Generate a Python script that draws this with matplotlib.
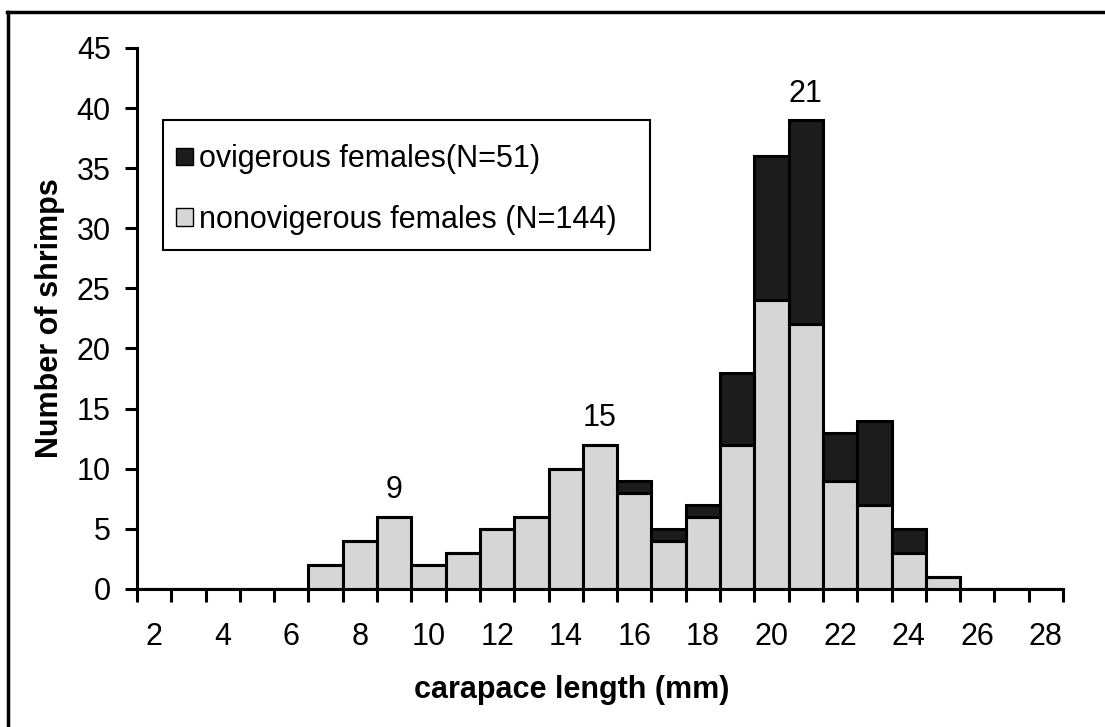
import numpy as np
import matplotlib
matplotlib.use('Agg')
from matplotlib import pyplot as plt
from matplotlib.lines import Line2D
from matplotlib.patches import Rectangle

plt.rcParams['font.family'] = ['Liberation Sans', 'DejaVu Sans']

'''
data
'''
lengths = list(range(2, 29))   # carapace length classes (mm)
nonovigerous = [0, 0, 0, 0, 0, 2, 4, 6, 2, 3, 5, 6, 10, 12, 8, 4, 6, 12,
                24, 22, 9, 7, 3, 1, 0, 0, 0]
ovigerous = [0, 0, 0, 0, 0, 0, 0, 0, 0, 0, 0, 0, 0, 0, 1, 1, 1, 6,
             12, 17, 4, 7, 2, 0, 0, 0, 0]
peak_labels = [9, 15, 21]
x_ticklabels = [str(v) for v in range(2, 29, 2)]
y_ticks = list(range(0, 46, 5))

label_ovi = 'ovigerous females(N=51)'
label_non = 'nonovigerous females (N=144)'

'''
plotting
'''
fig = plt.figure(figsize=(11.05, 7.27), dpi=100)
ax = fig.add_axes([0.124, 0.190, 0.838, 0.744])

x = np.array(lengths)
non = np.array(nonovigerous)
ovi = np.array(ovigerous)

ax.bar(x, non, width=1.0, color='#d6d6d6', edgecolor='black', linewidth=2.2,
       label=label_non, zorder=2)
ax.bar(x, ovi, width=1.0, bottom=non, color='#1c1c1c', edgecolor='black',
       linewidth=2.2, label=label_ovi, zorder=2)

total = non + ovi
for p in peak_labels:
    i = lengths.index(p)
    ax.text(p, total[i] + 2.2, str(p), ha='center', va='center', fontsize=22)

ax.set_xlim(1.5, 28.5)
ax.set_ylim(0, 45)

# ticks at class boundaries, labels at every other class centre
ax.set_xticks(np.arange(1.5, 29, 1.0))
ax.set_xticklabels([])
ax.set_xticks(range(2, 29, 2), x_ticklabels, minor=True)
ax.tick_params(axis='x', which='major', direction='out', length=9, width=2.2)
ax.tick_params(axis='x', which='minor', length=0, pad=24, labelsize=22)

ax.set_yticks(y_ticks)
ax.tick_params(axis='y', direction='out', length=9, width=2.2, pad=10,
               labelsize=22)

for s in ['top', 'right']:
    ax.spines[s].set_visible(False)
for s in ['left', 'bottom']:
    ax.spines[s].set_linewidth(2.2)

ax.set_xlabel('carapace length (mm)', fontsize=22, fontweight='bold')
ax.xaxis.set_label_coords(0.469, -0.160)
ax.set_ylabel('Number of shrimps', fontsize=22, fontweight='bold', labelpad=8)

# legend box drawn separately, entries placed inside it
ax.add_patch(Rectangle((0.028, 0.627), 0.526, 0.240, transform=ax.transAxes,
                       facecolor='white', edgecolor='black', linewidth=1.5,
                       zorder=3))
h, l = ax.get_legend_handles_labels()
leg = ax.legend(h[::-1], l[::-1], loc='upper left',
                bbox_to_anchor=(0.042, 0.822), frameon=False,
                fontsize=22, borderpad=0, labelspacing=1.0,
                handlelength=0.55, handleheight=0.5, handletextpad=0.2,
                borderaxespad=0)
leg.set_zorder(4)
for p in leg.get_patches():
    p.set_linewidth(1.0)

# outer frame of the figure (top and left only)
fig.add_artist(Line2D([0.006, 1.0], [0.984, 0.984], color='black', lw=2.5,
                      transform=fig.transFigure))
fig.add_artist(Line2D([0.007, 0.007], [0.0, 0.984], color='black', lw=2.5,
                      transform=fig.transFigure))

plt.savefig('out.png', dpi=100)
